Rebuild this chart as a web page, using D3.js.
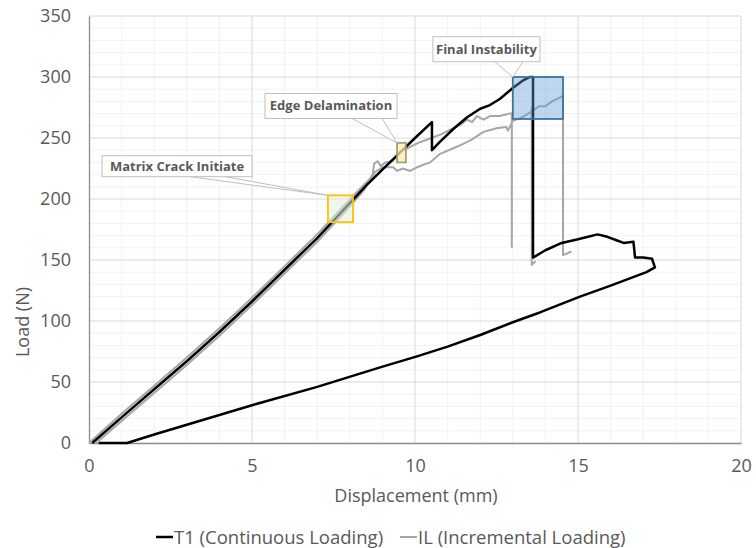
<!DOCTYPE html>
<html>
<head>
<meta charset="utf-8">
<script src="https://cdn.jsdelivr.net/npm/d3@7"></script>
<style>
  body { margin: 0; background: #fff; }
  text { font-family: "Open Sans", sans-serif; fill: #595959; }
</style>
</head>
<body>
<svg id="chart" width="756" height="548"></svg>
<script>
// T1 (Continuous Loading): loading, failure, then unloading back to zero
var t1Disp = [0.1, 1, 2, 3, 4, 5, 6, 7, 7.7, 8.5, 9.0, 9.5, 10.0, 10.52, 10.52, 10.77, 11.2, 11.6, 12.0, 12.3, 12.6, 13.0, 13.3, 13.53, 13.62,
              13.62, 14.0, 14.5, 15.0, 15.6, 15.9, 16.2, 16.4, 16.7, 16.75, 17.0, 17.27, 17.36, 17.1,
              16.0, 15.06, 13.83, 13.0, 12.0, 11.0, 10.06, 8.93, 7.0, 5.0, 4.0, 3.0, 2.0, 1.17, 0.3];
var t1Load = [0, 21, 44, 67, 91, 116, 142, 168, 188, 211, 224, 237, 250, 263, 240, 247, 258, 267, 274, 277, 282, 291, 297, 300, 300,
              152, 158, 164, 167, 171, 169, 166, 164, 165, 152, 152, 151, 144, 140,
              129, 120, 107, 99, 88.5, 79, 71, 62, 46, 31, 23, 15, 7, 0, 0];

// IL (Incremental Loading): NaN separates the loading cycles
var ilDisp = [0, 1, 2, 3, 4, 5, 6, 7, 7.7, 8.3, 8.6, 8.7, 8.75, 8.85, 8.95, 9.1, 9.3, 9.45, 9.55, 9.8, 10.1, 10.4, 10.8, 11.1, 11.4, 11.6, 11.75, 11.9, 12.1, 12.3, 12.6, 12.9, 12.97, 12.97,
              NaN,
              0.22, 1, 2, 3, 4, 5, 6, 7, 7.7, 8.4, 8.62, 8.77, 9.0, 9.33, 9.45, 9.63, 9.85, 10.06, 10.46, 10.77, 11.3, 11.7, 12.1, 12.5, 12.8, 12.85, 13.0, 13.3, 13.6, 13.8, 14.0, 14.2, 14.5, 14.54, 14.54, 14.8,
              NaN,
              13.58, 13.58, 13.7];
var ilLoad = [0, 24, 47, 70, 94, 119, 145, 171, 191, 208, 216, 220, 229, 231, 227, 230, 231, 235, 239, 242, 246, 249, 253, 257, 261, 265, 263, 268, 265, 268, 268, 270, 270, 160,
              NaN,
              0, 18, 41, 64, 88, 113, 139, 165, 185, 206, 215, 222, 226, 226, 223, 225, 223, 226, 230, 237, 243, 248, 255, 258, 259, 256, 264, 267, 272, 276, 276, 280, 284, 285, 154, 157,
              NaN,
              275, 146, 149];

// annotations: label, marked region [x0, x1, y0, y1], label box anchor [x, y]
var noteLabels = ["Matrix Crack Initiate", "Edge Delamination", "Final Instability"];
var noteRegions = [[7.33, 8.10, 181, 203], [9.45, 9.72, 230, 246], [13.0, 14.54, 265.6, 300]];
var noteAnchors = [[0.4, 235.5], [5.4, 286.5], [10.55, 333]];
var xTicks = [0, 5, 10, 15, 20];
var yTicks = [0, 50, 100, 150, 200, 250, 300, 350];

var svg = d3.select("#chart");
var x = d3.scaleLinear().domain([0, 20]).range([89, 741]);
var y = d3.scaleLinear().domain([0, 350]).range([443, 16]);

// minor grid
svg.append("g").selectAll("line")
  .data(d3.range(0, 21).filter(function(v) { return v % 5 != 0; }))
  .enter().append("line")
  .attr("x1", function(d) { return x(d); }).attr("x2", function(d) { return x(d); })
  .attr("y1", y(0)).attr("y2", y(350))
  .attr("stroke", "#f2f2f2");
svg.append("g").selectAll("line")
  .data(d3.range(0, 351, 10).filter(function(v) { return v % 50 != 0; }))
  .enter().append("line")
  .attr("x1", x(0)).attr("x2", x(20))
  .attr("y1", function(d) { return y(d); }).attr("y2", function(d) { return y(d); })
  .attr("stroke", "#f2f2f2");
// major grid
svg.append("g").selectAll("line")
  .data(xTicks.slice(1))
  .enter().append("line")
  .attr("x1", function(d) { return x(d); }).attr("x2", function(d) { return x(d); })
  .attr("y1", y(0)).attr("y2", y(350))
  .attr("stroke", "#d9d9d9");
svg.append("g").selectAll("line")
  .data(yTicks.slice(1))
  .enter().append("line")
  .attr("x1", x(0)).attr("x2", x(20))
  .attr("y1", function(d) { return y(d); }).attr("y2", function(d) { return y(d); })
  .attr("stroke", "#d9d9d9");

// axes
var xAxis = svg.append("g").attr("transform", "translate(0," + y(0) + ")")
  .call(d3.axisBottom(x).tickValues(xTicks).tickSize(0).tickPadding(16));
var yAxis = svg.append("g").attr("transform", "translate(" + x(0) + ",0)")
  .call(d3.axisLeft(y).tickValues(yTicks).tickSize(0).tickPadding(18));
[xAxis, yAxis].forEach(function(a) {
  a.select(".domain").attr("stroke", "#8c8c8c").attr("stroke-width", 1.3);
  a.selectAll("text").style("font-size", "18px").style("font-family", "Open Sans").attr("fill", "#595959");
});

// series
var line = d3.line()
  .defined(function(d) { return !isNaN(d[0]); })
  .x(function(d) { return x(d[0]); })
  .y(function(d) { return y(d[1]); });

svg.append("path")
  .datum(ilDisp.map(function(v, i) { return [v, ilLoad[i]]; }))
  .attr("d", line)
  .attr("fill", "none").attr("stroke", "#a6a6a6").attr("stroke-width", 2)
  .attr("stroke-linejoin", "round");
svg.append("path")
  .datum(t1Disp.map(function(v, i) { return [v, t1Load[i]]; }))
  .attr("d", line)
  .attr("fill", "none").attr("stroke", "#000").attr("stroke-width", 2.5)
  .attr("stroke-linejoin", "round");

// marked regions
var regionFill = ["rgba(226,239,218,0.55)", "rgba(255,236,179,0.75)", "rgba(91,155,213,0.4)"];
var regionStroke = ["#ffc000", "#a89a78", "#41719c"];
svg.append("g").selectAll("rect")
  .data(noteRegions)
  .enter().append("rect")
  .attr("x", function(d) { return x(d[0]); })
  .attr("y", function(d) { return y(d[3]); })
  .attr("width", function(d) { return x(d[1]) - x(d[0]); })
  .attr("height", function(d) { return y(d[2]) - y(d[3]); })
  .attr("fill", function(d, i) { return regionFill[i]; })
  .attr("stroke", function(d, i) { return regionStroke[i]; })
  .attr("stroke-width", 1.8);

// callouts
var boxW = [150, 132, 107], boxH = [21, 25, 25];
var wedge = [[88, 123], [87, 117], [62, 90]];
noteLabels.forEach(function(lbl, i) {
  var bx = x(noteAnchors[i][0]), by = y(noteAnchors[i][1]);
  var tx = x(noteRegions[i][0]), ty = y(noteRegions[i][3]);
  var g = svg.append("g");
  g.append("path")
    .attr("d", "M" + (bx + wedge[i][0]) + "," + (by + boxH[i]) + "L" + tx + "," + ty + "L" + (bx + wedge[i][1]) + "," + (by + boxH[i]))
    .attr("fill", "#fff").attr("stroke", "#bfbfbf").attr("stroke-width", 1);
  g.append("rect")
    .attr("x", bx).attr("y", by).attr("width", boxW[i]).attr("height", boxH[i])
    .attr("fill", "#fff").attr("stroke", "#bfbfbf").attr("stroke-width", 1);
  g.append("text")
    .attr("x", bx + boxW[i] / 2).attr("y", by + boxH[i] / 2 + 4.5)
    .attr("text-anchor", "middle")
    .style("font-size", "13px").style("font-weight", "bold")
    .text(lbl);
});

// axis titles
svg.append("text")
  .attr("x", 416).attr("y", 502)
  .attr("text-anchor", "middle").style("font-size", "18px")
  .text("Displacement (mm)");
svg.append("text")
  .attr("transform", "translate(29,322) rotate(-90)")
  .attr("text-anchor", "middle").style("font-size", "18px")
  .text("Load (N)");

// legend
var legNames = ["T1 (Continuous Loading)", "IL (Incremental Loading)"];
var legColors = ["#000", "#a6a6a6"];
var legX = [156, 400];
legNames.forEach(function(n, i) {
  svg.append("line")
    .attr("x1", legX[i]).attr("x2", legX[i] + 17)
    .attr("y1", 537).attr("y2", 537)
    .attr("stroke", legColors[i]).attr("stroke-width", i == 0 ? 2.5 : 2);
  svg.append("text")
    .attr("x", legX[i] + 18).attr("y", 543.5)
    .style("font-size", "18.5px")
    .text(n);
});
</script>
</body>
</html>
